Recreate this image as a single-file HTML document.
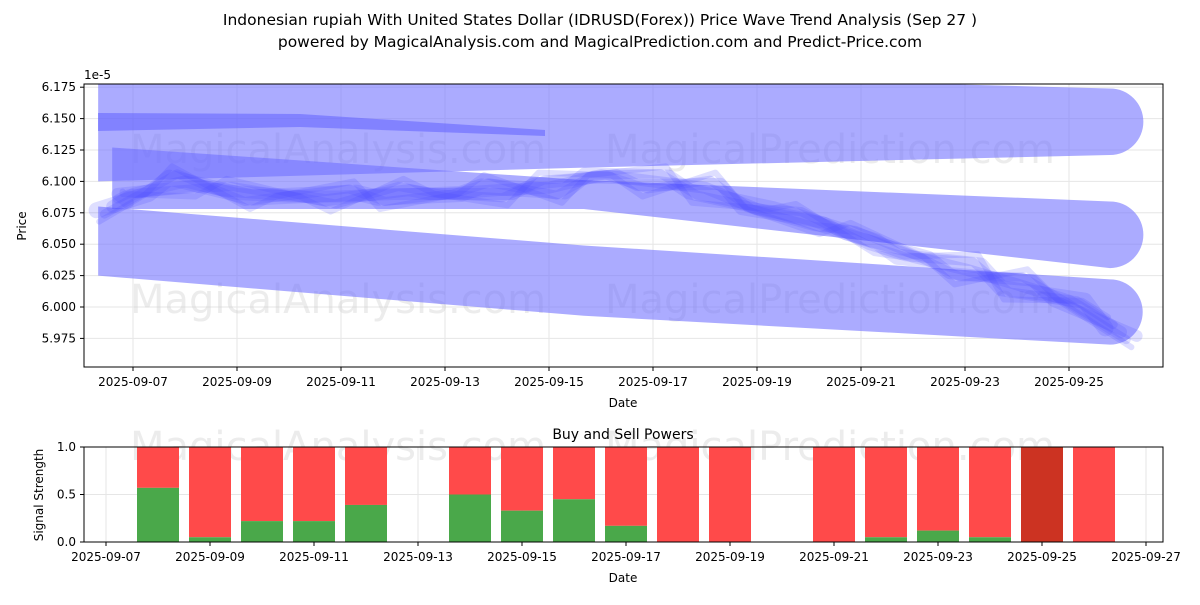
<!DOCTYPE html>
<html><head><meta charset="utf-8"><style>
body{margin:0;background:#fff;font-family:"Liberation Sans","DejaVu Sans",sans-serif}
svg text{font-family:"DejaVu Sans","Liberation Sans",sans-serif}
</style></head><body>
<svg id="c" width="1200" height="600" xmlns="http://www.w3.org/2000/svg">
<rect width="1200" height="600" fill="#fff"/>
<text x="600" y="25" font-size="15.5" text-anchor="middle">Indonesian rupiah With United States Dollar (IDRUSD(Forex)) Price Wave Trend Analysis (Sep 27 )</text>
<text x="600" y="47" font-size="15.5" text-anchor="middle">powered by MagicalAnalysis.com and MagicalPrediction.com and Predict-Price.com</text>
<g id="top"></g><g id="bot"></g>
</svg>
<script>
// ---- data ----
const priceTicks=[6.175,6.150,6.125,6.100,6.075,6.050,6.025,6.000,5.975];
const dateTicks=['2025-09-07','2025-09-09','2025-09-11','2025-09-13','2025-09-15','2025-09-17','2025-09-19','2025-09-21','2025-09-23','2025-09-25'];
const traceDays=[6.6,7,8,9,10,11,12,13,14,15,16,17,18,19,20,21,22,23,24,25,26];
const tracePrices=[6.080,6.090,6.100,6.090,6.088,6.088,6.090,6.090,6.093,6.095,6.105,6.100,6.095,6.078,6.070,6.055,6.040,6.030,6.018,6.005,5.980];
const bandDays=[6.33,15.67,25.79];
const midBandDays=[6.6,15.67,25.79];
const topBandUpper=[6.197,6.185,6.174];
const topBandLower=[6.100,6.111,6.121];
const midBandUpper=[6.127,6.101,6.084];
const midBandLower=[6.078,6.078,6.031];
const lowBandUpper=[6.080,6.049,6.022];
const lowBandLower=[6.025,5.993,5.970];
const barDays=[8,9,10,11,12,14,15,16,17,18,19,21,22,23,24,25,26];
const buyVals=[0.57,0.05,0.22,0.22,0.39,0.5,0.33,0.45,0.17,0,0,0,0.05,0.12,0.05,0,0];
const botTicks=['2025-09-07','2025-09-09','2025-09-11','2025-09-13','2025-09-15','2025-09-17','2025-09-19','2025-09-21','2025-09-23','2025-09-25','2025-09-27'];
const sigTicks=[0,0.5,1.0];

const NS='http://www.w3.org/2000/svg';
function mk(p,t,a,txt){const e=document.createElementNS(NS,t);for(const k in a)e.setAttribute(k,a[k]);if(txt!==undefined)e.textContent=txt;p.appendChild(e);return e;}
const L=84,R=1163,T=84,B=367;
const xT=d=>133+(d-7)*52;
const yT=p=>307-(p-6.0)/0.025*31.4;
const dnum=s=>+s.slice(8);
const topG=document.getElementById('top'),botG=document.getElementById('bot');

priceTicks.forEach(p=>{const y=yT(p);
 const g=mk(topG,'line',{x1:L,x2:R,y1:y,y2:y,stroke:'#e6e6e6'});
 
 
 const t=mk(topG,'text',{x:L-8,y:y+4,'font-size':12,'text-anchor':'end'},p.toFixed(3));
 
 
 mk(topG,'line',{x1:L-4,x2:L,y1:y,y2:y,stroke:'#000'});
});
dateTicks.forEach(s=>{const x=xT(dnum(s));
 const g=mk(topG,'line',{x1:x,x2:x,y1:T,y2:B,stroke:'#e6e6e6'});
 
 
 mk(topG,'line',{x1:x,x2:x,y1:B,y2:B+4,stroke:'#000'});
 const t=mk(topG,'text',{x:x,y:B+19,'font-size':12,'text-anchor':'middle'},s);
 
 
});
[[130,163,'MagicalAnalysis.com'],[605,163,'MagicalPrediction.com'],[130,313,'MagicalAnalysis.com'],[605,313,'MagicalPrediction.com'],[130,460,'MagicalAnalysis.com'],[605,460,'MagicalPrediction.com']].forEach(w=>{
 const t=mk(topG,'text',{x:w[0],y:w[1],'font-size':40,fill:'rgba(200,200,200,0.35)'},w[2]);
 
 
});
const cp=mk(topG,'clipPath',{id:'cp'});mk(cp,'rect',{x:L,y:T,width:R-L,height:B-T});
const bg=mk(topG,'g',{'clip-path':'url(#cp)'});
const bandFill='rgba(110,110,255,0.58)';
[[topBandUpper,topBandLower,bandDays],[midBandUpper,midBandLower,midBandDays],[lowBandUpper,lowBandLower,bandDays]].forEach(b=>{
 const days=b[2];
 const up=days.map((d,i)=>xT(d)+','+yT(b[0][i]));
 const lo=days.map((d,i)=>xT(d)+','+yT(b[1][i])).reverse();
 const n=days.length-1;
 const yu=yT(b[0][n]),yl=yT(b[1][n]),r=(yl-yu)/2,xe=xT(days[n]);
 const d='M'+up.join(' L')+' A'+r+' '+r+' 0 0 1 '+xe+' '+yl+' L'+lo.join(' L')+' Z';
 const p=mk(bg,'path',{d:d,fill:bandFill});
 
 
});
mk(bg,'polygon',{points:'98,113 300,114 545,130 545,136 300,127 98,131',fill:'rgba(90,90,255,0.5)'});
const offs=[[0,0,12],[0.006,0.3,9],[-0.006,-0.2,9],[0.012,0.5,6],[-0.012,-0.4,6],[0.003,0.6,16],[-0.003,-0.6,12]];
offs.forEach(o=>{
 const pts=traceDays.map((d,i)=>xT(d+o[1]*(i%2?1:-1)*0.5)+','+yT(tracePrices[i]+o[0]*(i%3-1)));
 const l=mk(bg,'polyline',{points:pts.join(' '),fill:'none',stroke:'rgba(70,70,255,0.18)','stroke-width':o[2],'stroke-linejoin':'round','stroke-linecap':'round'});
 
 
});
mk(topG,'rect',{x:L,y:T,width:R-L,height:B-T,fill:'none',stroke:'#000'});
mk(topG,'text',{x:84,y:79,'font-size':12},'1e-5');
mk(topG,'text',{x:623,y:407,'font-size':12,'text-anchor':'middle'},'Date');
mk(topG,'text',{x:26,y:226,'font-size':12,'text-anchor':'middle',transform:'rotate(-90 26 226)'},'Price');

const BL=84,BR=1163,BT=447,BB=542;
const xB=d=>106+(d-7)*52;
const yB=v=>BB-v*(BB-BT);
sigTicks.forEach(v=>{const y=yB(v);
 mk(botG,'line',{x1:BL,x2:BR,y1:y,y2:y,stroke:'#e6e6e6'});
 mk(botG,'line',{x1:BL-4,x2:BL,y1:y,y2:y,stroke:'#000'});
 const t=mk(botG,'text',{x:BL-8,y:y+4,'font-size':12,'text-anchor':'end'},v.toFixed(1));
 
 
});
botTicks.forEach(s=>{const d=dnum(s);const x=xB(d);
 mk(botG,'line',{x1:x,x2:x,y1:BT,y2:BB,stroke:'#e6e6e6'});
 mk(botG,'line',{x1:x,x2:x,y1:BB,y2:BB+4,stroke:'#000'});
 const t=mk(botG,'text',{x:x,y:BB+19,'font-size':12,'text-anchor':'middle'},s);
 
 
});
barDays.forEach((d,i)=>{const x=xB(d)-21;
 const red=mk(botG,'rect',{x:x,y:yB(1),width:42,height:yB(buyVals[i])-yB(1),fill:d===25?'#cc3322':'#ff4a4a'});
 
 
 const g=mk(botG,'rect',{x:x,y:yB(buyVals[i]),width:42,height:yB(0)-yB(buyVals[i]),fill:'#4aa84a'});
 
 
});
mk(botG,'rect',{x:BL,y:BT,width:BR-BL,height:BB-BT,fill:'none',stroke:'#000'});
mk(botG,'text',{x:623,y:439,'font-size':14,'text-anchor':'middle'},'Buy and Sell Powers');
mk(botG,'text',{x:623,y:582,'font-size':12,'text-anchor':'middle'},'Date');
mk(botG,'text',{x:43,y:495,'font-size':12,'text-anchor':'middle',transform:'rotate(-90 43 495)'},'Signal Strength');
</script>
</body></html>
